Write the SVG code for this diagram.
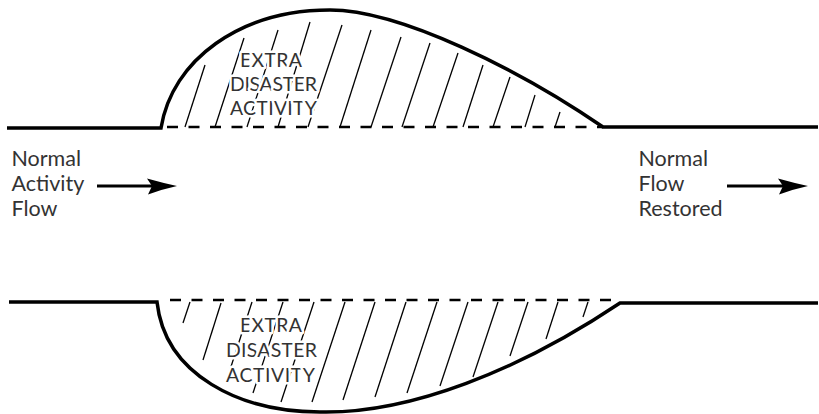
<svg xmlns="http://www.w3.org/2000/svg" width="819" height="414" viewBox="0 0 819 414">
<style>
.bg{fill:#fff}
.outline{fill:none;stroke:#000;stroke-width:3.5;stroke-linejoin:miter}
.dash{fill:none;stroke:#000;stroke-width:2.5;stroke-dasharray:11 10.5}
.hatch{stroke:#000;stroke-width:1.3;fill:none}
.shaft{stroke:#000;stroke-width:3;fill:none}
.head{fill:#000}
.lbl{font-family:Lato,"Open Sans","Liberation Sans",sans-serif;font-size:21.5px;fill:#333}
.zone{font-family:Lato,"Open Sans","Liberation Sans",sans-serif;font-size:19.5px;fill:#333;text-anchor:middle;stroke:#fff;stroke-width:5;paint-order:stroke;stroke-linejoin:round}
</style>
<defs>
<path id="arrowhead" d="M0,0 Q-14,-3 -30,-7.5 L-25,0 L-29,8.5 Q-14,3 0,0 Z"/>
</defs>
<rect class="bg" x="0" y="0" width="819" height="414"/>

<g id="upper-bulge">
<path class="outline" d="M7,128 H161 C172,60 240,10 330,10 C400,10 520,70 603,127 H818"/>
<path class="dash" d="M167,127 H603"/>
<g class="hatch">
<path d="M185,127 L205,65"/>
<path d="M215,127 L244,38"/>
<path d="M247,127 L278,30"/>
<path d="M278,127 L310,22"/>
<path d="M308,127 L342,25"/>
<path d="M340,127 L371,30"/>
<path d="M371,127 L401,37"/>
<path d="M402,127 L430,43"/>
<path d="M433,127 L458,53"/>
<path d="M463,127 L483,65"/>
<path d="M493,127 L510,77"/>
<path d="M525,127 L535,95"/>
<path d="M555,127 L560,112"/>
</g>
<text class="zone" x="271" y="67" textLength="62">EXTRA</text>
<text class="zone" x="273.5" y="91" textLength="87">DISASTER</text>
<text class="zone" x="273.5" y="115" textLength="87">ACTIVITY</text>
</g>

<g id="lower-bulge">
<path class="outline" d="M9,302 H157 C165,375 240,412 320,412 C410,414 520,370 620,303 H818"/>
<path class="dash" d="M170,300 H620"/>
<g class="hatch">
<path d="M190,302 L183,323"/>
<path d="M221,303 L203,360"/>
<path d="M252,302 L226,382"/>
<path d="M283,302 L253,393"/>
<path d="M314,302 L281,402"/>
<path d="M345,302 L312,402"/>
<path d="M375,302 L343,400"/>
<path d="M406,302 L375,397"/>
<path d="M437,302 L407,393"/>
<path d="M468,302 L440,386"/>
<path d="M498,302 L473,377"/>
<path d="M528,302 L510,356"/>
<path d="M558,302 L546,339"/>
<path d="M588,302 L583,317"/>
</g>
<text class="zone" x="271" y="332" textLength="62">EXTRA</text>
<text class="zone" x="271.5" y="357" textLength="91">DISASTER</text>
<text class="zone" x="270.5" y="382" textLength="89">ACTIVITY</text>
</g>

<g id="normal-activity-flow">
<text class="lbl" x="11.5" y="166">Normal</text>
<text class="lbl" x="11.5" y="191">Activity</text>
<text class="lbl" x="11.5" y="216">Flow</text>
</g>

<g id="normal-flow-restored">
<text class="lbl" x="638.5" y="166">Normal</text>
<text class="lbl" x="638.5" y="191">Flow</text>
<text class="lbl" x="638.5" y="216">Restored</text>
</g>

<g id="connectors">
<path class="shaft" d="M97,186 H155"/>
<use href="#arrowhead" class="head" transform="translate(177,186)"/>
<path class="shaft" d="M727,186 H786"/>
<use href="#arrowhead" class="head" transform="translate(808,186)"/>
</g>
</svg>
